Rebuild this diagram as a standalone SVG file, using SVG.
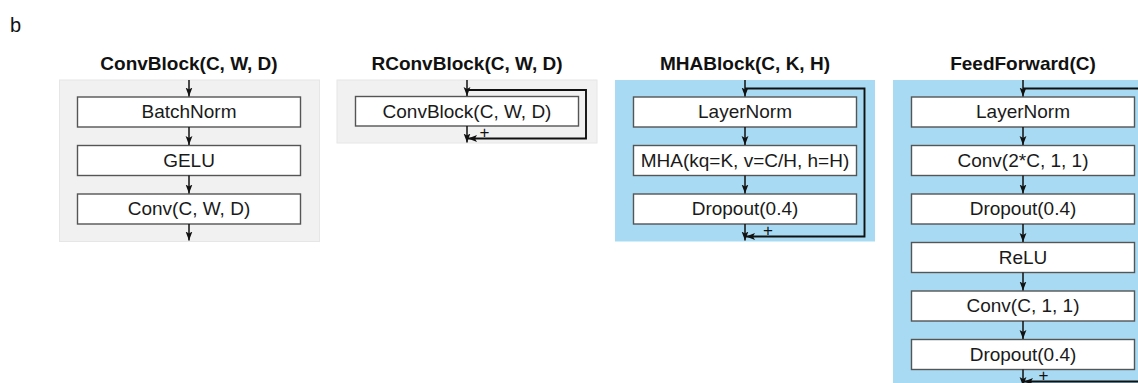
<svg xmlns="http://www.w3.org/2000/svg" width="1138" height="383" viewBox="0 0 1138 383">
  <defs>
    <style>
      .title { font-family: "Liberation Sans", Arial, sans-serif; font-size: 19px; font-weight: bold; fill: #111; text-anchor: middle; }
      .lbl { font-family: "Liberation Sans", Arial, sans-serif; font-size: 19px; fill: #1a1a1a; text-anchor: middle; }
      .plus { font-family: "Liberation Sans", Arial, sans-serif; font-size: 17px; fill: #111; text-anchor: middle; }
      .panel-gray { fill: #f1f1f1; stroke: #e6e6e6; stroke-width: 1; }
      .panel-blue { fill: #a8dbf3; }
      .box { fill: #ffffff; stroke: #555555; stroke-width: 1.4; }
      .edge { fill: none; stroke: #111; stroke-width: 1.5; marker-end: url(#arrow); }
      .skip { fill: none; stroke: #111; stroke-width: 1.9; marker-end: url(#arrow); }
    </style>
    <marker id="arrow" markerUnits="userSpaceOnUse" markerWidth="10" markerHeight="8" refX="9" refY="4" orient="auto">
      <path d="M0,0.6 L9,4 L0,7.4 L2,4 Z" fill="#111"/>
    </marker>
  </defs>

  <rect width="1138" height="383" fill="#ffffff"/>
  <text x="10" y="32" font-family="Liberation Sans, Arial, sans-serif" font-size="20" fill="#111">b</text>

  <!-- block backgrounds -->
  <g id="convblock">
    <rect class="panel-gray" x="59.5" y="80" width="260" height="161.5"/>
    <text class="title" x="189" y="70">ConvBlock(C, W, D)</text>
  </g>
  <g id="rconvblock">
    <rect class="panel-gray" x="337" y="80" width="260" height="63"/>
    <text class="title" x="467" y="70">RConvBlock(C, W, D)</text>
  </g>
  <g id="mhablock">
    <rect class="panel-blue" x="615" y="80" width="260" height="161.5"/>
    <text class="title" x="745" y="70">MHABlock(C, K, H)</text>
  </g>
  <g id="feedforward">
    <rect class="panel-blue" x="893" y="80" width="260" height="310"/>
    <text class="title" x="1023" y="70">FeedForward(C)</text>
  </g>

  <!-- ConvBlock layers -->
  <g id="cb-batchnorm"><rect class="box" x="77.5" y="97" width="223" height="30"/><text class="lbl" x="189" y="118">BatchNorm</text></g>
  <g id="cb-gelu"><rect class="box" x="77.5" y="145.5" width="223" height="30"/><text class="lbl" x="189" y="166.5">GELU</text></g>
  <g id="cb-conv"><rect class="box" x="77.5" y="194" width="223" height="30"/><text class="lbl" x="189" y="215">Conv(C, W, D)</text></g>

  <!-- RConvBlock layer -->
  <g id="rcb-convblock"><rect class="box" x="355.5" y="96.5" width="223" height="29.5"/><text class="lbl" x="467" y="117.5">ConvBlock(C, W, D)</text></g>

  <!-- MHABlock layers -->
  <g id="mha-layernorm"><rect class="box" x="633.5" y="97" width="223" height="30"/><text class="lbl" x="745" y="118">LayerNorm</text></g>
  <g id="mha-attn"><rect class="box" x="633.5" y="145.5" width="223" height="30"/><text class="lbl" x="745" y="166.5">MHA(kq=K, v=C/H, h=H)</text></g>
  <g id="mha-dropout"><rect class="box" x="633.5" y="194" width="223" height="30"/><text class="lbl" x="745" y="215">Dropout(0.4)</text></g>

  <!-- FeedForward layers -->
  <g id="ff-layernorm"><rect class="box" x="911.5" y="97" width="223" height="30"/><text class="lbl" x="1023" y="118">LayerNorm</text></g>
  <g id="ff-conv1"><rect class="box" x="911.5" y="145.5" width="223" height="30"/><text class="lbl" x="1023" y="166.5">Conv(2*C, 1, 1)</text></g>
  <g id="ff-dropout1"><rect class="box" x="911.5" y="194" width="223" height="30"/><text class="lbl" x="1023" y="215">Dropout(0.4)</text></g>
  <g id="ff-relu"><rect class="box" x="911.5" y="242.5" width="223" height="30"/><text class="lbl" x="1023" y="263.5">ReLU</text></g>
  <g id="ff-conv2"><rect class="box" x="911.5" y="291" width="223" height="30"/><text class="lbl" x="1023" y="312">Conv(C, 1, 1)</text></g>
  <g id="ff-dropout2"><rect class="box" x="911.5" y="339.5" width="223" height="30"/><text class="lbl" x="1023" y="360.5">Dropout(0.4)</text></g>

  <!-- connectors -->
  <g id="connectors">
    <!-- ConvBlock -->
    <path class="edge" d="M189,80 V96.5"/>
    <path class="edge" d="M189,127 V145"/>
    <path class="edge" d="M189,175.5 V193.5"/>
    <path class="edge" d="M189,224 V240.5"/>

    <!-- RConvBlock -->
    <path class="edge" d="M467,80 V96"/>
    <path class="edge" d="M467,126 V142.5"/>
    <path class="skip" d="M467,90 H586 V138.5 H468"/>

    <!-- MHABlock -->
    <path class="edge" d="M745,80 V96.5"/>
    <path class="edge" d="M745,127 V145"/>
    <path class="edge" d="M745,175.5 V193.5"/>
    <path class="edge" d="M745,224 V240.5"/>
    <path class="skip" d="M745,88.5 H864.5 V236.5 H746"/>

    <!-- FeedForward -->
    <path class="edge" d="M1023,80 V96.5"/>
    <path class="edge" d="M1023,127 V145"/>
    <path class="edge" d="M1023,175.5 V193.5"/>
    <path class="edge" d="M1023,224 V242"/>
    <path class="edge" d="M1023,272.5 V290.5"/>
    <path class="edge" d="M1023,321 V339"/>
    <path class="edge" d="M1023,369.5 V386"/>
    <path class="skip" d="M1023,88.5 H1142.5 V381.5 H1024"/>
  </g>

  <!-- residual sum marks -->
  <text class="plus" x="484.5" y="137.5">+</text>
  <text class="plus" x="768" y="235.5">+</text>
  <text class="plus" x="1043.5" y="380.5">+</text>
</svg>
